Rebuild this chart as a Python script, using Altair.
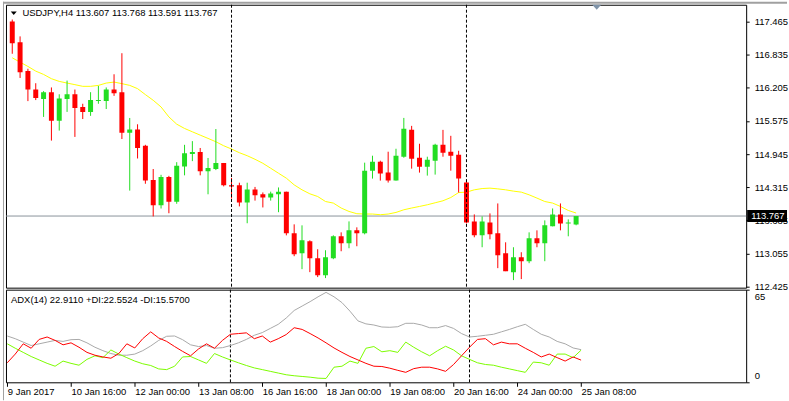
import json
import altair as alt
import pandas as pd

# ---------------- data ----------------
symbol = "USDJPY,H4"
bar_index = list(range(73))
opens = [117.465, 117.07, 116.52, 116.17, 115.99, 116.12, 115.575, 115.99, 116.08, 115.84,
         115.745, 115.95, 115.95, 116.17, 116.12, 115.35, 115.41, 115.10, 114.45, 113.97,
         114.51, 114.04, 114.71, 114.945, 114.985, 114.62, 114.66, 114.775, 114.35, 114.35,
         114.025, 114.27, 114.18, 114.12, 114.18, 114.23, 113.438, 113.06, 113.287, 112.966,
         112.644, 112.966, 113.382, 113.249, 113.495, 113.438, 114.629, 114.80, 114.592, 114.44,
         114.894, 115.404, 114.875, 114.705, 114.818, 115.121, 114.989, 114.932, 114.403, 113.665,
         113.401, 113.646, 113.438, 113.06, 112.701, 112.985, 112.909, 113.344, 113.249, 113.571,
         113.798, 113.627, 113.607]
highs = [117.50, 117.18, 116.565, 116.29, 116.14, 116.21, 116.08, 116.34, 116.17, 115.90,
         116.12, 116.24, 116.21, 116.46, 116.86, 115.63, 115.51, 115.12, 114.66, 114.55,
         114.53, 114.79, 115.12, 115.19, 115.06, 114.87, 115.42, 114.775, 114.49, 114.40,
         114.40, 114.32, 114.215, 114.23, 114.31, 114.23, 113.609, 113.59, 113.306, 113.136,
         113.117, 113.401, 113.457, 113.665, 113.552, 114.781, 114.913, 114.818, 114.989, 115.045,
         115.631, 115.48, 115.14, 114.894, 115.14, 115.404, 115.291, 115.007, 114.44, 113.798,
         113.76, 113.817, 114.006, 113.268, 113.174, 113.079, 113.457, 113.495, 113.684, 113.911,
         114.006, 113.703, 113.768]
lows = [116.85, 116.39, 115.95, 115.97, 115.65, 115.20, 115.39, 115.745, 115.27, 115.61,
        115.67, 115.90, 115.80, 116.05, 115.23, 114.25, 114.86, 114.38, 113.76, 113.91,
        113.82, 114.00, 114.54, 114.81, 114.54, 114.18, 114.64, 114.33, 114.10, 113.95,
        113.63, 114.06, 113.93, 114.06, 113.84, 113.40, 113.004, 112.758, 112.701, 112.607,
        112.588, 112.947, 113.098, 113.155, 113.193, 113.419, 114.478, 114.44, 114.403, 114.44,
        114.875, 114.667, 114.592, 114.535, 114.554, 114.894, 114.629, 114.214, 113.627, 113.363,
        113.174, 113.325, 112.777, 112.72, 112.55, 112.569, 112.871, 113.174, 112.909, 113.571,
        113.495, 113.382, 113.591]
closes = [117.05, 116.50, 116.17, 116.01, 116.12, 115.575, 116.00, 116.08, 115.82, 115.745,
          115.97, 115.97, 116.17, 116.10, 115.35, 115.41, 115.06, 114.44, 113.97, 114.51,
          114.04, 114.72, 114.96, 114.985, 114.62, 114.68, 114.775, 114.35, 114.33, 114.025,
          114.27, 114.16, 114.12, 114.195, 114.23, 113.44, 113.042, 113.306, 112.966, 112.644,
          112.985, 113.382, 113.249, 113.495, 113.438, 114.629, 114.80, 114.573, 114.44, 114.913,
          115.423, 114.856, 114.705, 114.837, 115.121, 114.97, 114.913, 114.478, 113.646, 113.401,
          113.665, 113.419, 113.023, 112.72, 112.985, 112.909, 113.344, 113.249, 113.59, 113.798,
          113.627, 113.646, 113.767]
moving_avg = [116.773, 116.69, 116.609, 116.52, 116.457, 116.376, 116.325, 116.293, 116.263, 116.231,
              116.231, 116.249, 116.293, 116.312, 116.282, 116.249, 116.187, 116.074, 115.966, 115.839,
              115.65, 115.512, 115.431, 115.367, 115.304, 115.242, 115.178, 115.102, 115.04, 114.97,
              114.913, 114.845, 114.769, 114.675, 114.58, 114.486, 114.359, 114.265, 114.189, 114.138,
              114.043, 114.013, 113.919, 113.854, 113.811, 113.805, 113.805, 113.792, 113.805, 113.835,
              113.886, 113.919, 113.949, 113.981, 114.019, 114.057, 114.119, 114.213, 114.221, 114.265,
              114.289, 114.297, 114.283, 114.265, 114.24, 114.221, 114.17, 114.108, 114.043, 114.013,
              113.949, 113.873, 113.824]
adx = [32.5, 30.6, 28.2, 25.8, 27.0, 28.2, 29.4, 28.7, 29.9, 30.1,
       27.7, 24.6, 22.2, 20.2, 19.0, 19.0, 19.8, 22.2, 25.5, 29.4,
       32.3, 32.5, 29.9, 26.3, 25.1, 25.8, 23.9, 24.3, 25.8, 27.7,
       30.1, 33.0, 34.9, 37.8, 40.7, 45.1, 50.4, 53.5, 56.6, 60.0,
       63.1, 60.0, 55.9, 49.9, 43.1, 41.0, 40.2, 38.8, 38.6, 39.0,
       41.4, 41.4, 40.2, 38.3, 38.3, 39.8, 37.8, 34.2, 31.8, 32.3,
       33.0, 33.7, 35.4, 37.1, 39.0, 40.7, 37.1, 33.7, 31.8, 28.7,
       27.0, 24.1, 22.911]
plus_di = [27.0, 23.9, 21.0, 18.1, 15.7, 13.3, 11.3, 14.9, 13.3, 12.0,
           16.1, 18.6, 17.3, 22.7, 19.8, 17.3, 14.9, 13.0, 11.8, 9.4,
           8.9, 11.3, 17.8, 18.1, 15.7, 13.3, 20.2, 17.8, 15.7, 13.7,
           11.8, 10.1, 8.9, 7.7, 6.5, 5.3, 4.6, 4.1, 3.6, 2.9,
           2.7, 10.6, 11.3, 14.9, 13.3, 23.9, 25.1, 21.4, 22.2, 21.0,
           28.2, 24.6, 21.4, 18.6, 22.2, 25.3, 22.7, 18.6, 16.1, 13.7,
           12.5, 12.0, 10.6, 9.4, 8.2, 7.0, 14.2, 13.7, 12.0, 19.8,
           19.8, 17.3, 22.5524]
minus_di = [13.7, 19.8, 27.0, 23.9, 30.1, 31.8, 29.4, 26.3, 27.7, 24.6,
            21.0, 19.0, 17.8, 16.9, 20.2, 27.0, 24.1, 30.6, 35.4, 31.1,
            28.7, 25.1, 21.7, 18.6, 23.4, 27.0, 23.9, 29.4, 33.7, 34.2,
            34.7, 30.6, 32.5, 28.2, 30.6, 33.5, 38.3, 37.1, 34.2, 31.1,
            27.7, 24.1, 21.0, 18.1, 15.7, 13.3, 11.3, 11.1, 9.9, 8.4,
            7.0, 9.6, 10.6, 10.6, 9.4, 7.7, 12.5, 18.6, 24.6, 30.1,
            30.6, 26.3, 28.2, 27.0, 27.0, 23.9, 21.0, 17.8, 19.8, 17.3,
            14.9, 17.8, 15.57]
time_tick_index = [0, 8, 16, 24, 32, 40, 48, 56, 64, 72]
time_labels = ["9 Jan 2017", "10 Jan 16:00", "12 Jan 00:00", "13 Jan 08:00", "16 Jan 16:00",
               "18 Jan 00:00", "19 Jan 08:00", "20 Jan 16:00", "24 Jan 00:00", "25 Jan 08:00"]
price_ticks = [112.425, 113.055, 113.685, 114.315, 114.945, 115.575, 116.205, 116.835, 117.465]
indicator_ticks = [0, 65]
week_separators = [28, 58]

# ---------------- frames ----------------
FONT = "Liberation Sans"
FS = 9.5
W, H1, H2 = 743, 284, 93

df = pd.DataFrame({"i": bar_index, "open": opens, "high": highs, "low": lows,
                   "close": closes, "ma": moving_avg})
df["dir"] = ["up" if c >= o else "down" for o, c in zip(opens, closes)]
last = pd.DataFrame({"p": [closes[-1]]})
sep = pd.DataFrame({"s": week_separators})
one = pd.DataFrame({"k": [0]})

header = f"{symbol}  {opens[-1]:.3f} {highs[-1]:.3f} {lows[-1]:.3f} {closes[-1]:.3f}"
ind_header = f"ADX(14) {adx[-1]:.4f} +DI:{plus_di[-1]:.4f} -DI:{minus_di[-1]:.4f}"

xs = alt.Scale(domain=[0, 72], range=[1.3, 577.3])
ys = alt.Scale(domain=[112.406, 117.781], zero=False, nice=False)
cs = alt.Scale(domain=["up", "down"], range=["#22DD22", "#FF0000"])

price_axis = alt.Axis(orient="right", values=price_ticks, format=".3f", tickSize=3,
                      labelPadding=5, domain=False, grid=False, title=None,
                      labelFlush=False, labelOverlap=False, labelBound=False)
label_expr = json.dumps(time_labels) + "[round(datum.value / 8)]"
time_axis = alt.Axis(values=time_tick_index, labelExpr=label_expr,
                     labelAlign="left", labelBaseline="top", labelPadding=0,
                     tickSize=4, domain=False, grid=False, title=None,
                     labelFlush=False, labelOverlap=False, labelBound=False)
ivs = alt.Scale(domain=[0, 65], zero=False, nice=False)
ind_axis = alt.Axis(orient="right", values=indicator_ticks, tickSize=3,
                    labelPadding=5, labelFlush=True, labelFlushOffset=-2,
                    domain=False, grid=False, title=None,
                    labelOverlap=False, labelBound=False)

base = alt.Chart(df)
price_line = alt.Chart(last).mark_rule(color="#8A949C", strokeWidth=1).encode(
    y=alt.Y("p:Q", scale=ys, axis=price_axis))
ma_line = base.mark_line(color="#FFFF00", strokeWidth=1, clip=True).encode(
    x=alt.X("i:Q", scale=xs, axis=None), y=alt.Y("ma:Q", scale=ys, axis=price_axis))
wicks = base.mark_rule(strokeWidth=1, clip=True).encode(
    x=alt.X("i:Q", scale=xs, axis=None),
    y=alt.Y("low:Q", scale=ys, axis=price_axis), y2="high:Q",
    color=alt.Color("dir:N", scale=cs, legend=None))
bodies = base.mark_bar(size=5, clip=True).encode(
    x=alt.X("i:Q", scale=xs, axis=None),
    y=alt.Y("open:Q", scale=ys, axis=price_axis), y2="close:Q",
    color=alt.Color("dir:N", scale=cs, legend=None))
seps1 = alt.Chart(sep).mark_rule(color="black", strokeDash=[3, 2], strokeWidth=1).encode(
    x=alt.X("s:Q", scale=xs, axis=None))
title_tri = alt.Chart(one).mark_point(shape="M-1,-0.6L1,-0.6L0,0.6Z", filled=True, color="black",
                                      opacity=1, size=36).encode(x=alt.value(7.8), y=alt.value(8.5))
title_txt = alt.Chart(pd.DataFrame({"t": [header]})).mark_text(
    align="left", baseline="middle", font=FONT, fontSize=FS, color="black").encode(
    x=alt.value(16.5), y=alt.value(8), text="t:N")
shift_tri = alt.Chart(one).mark_point(shape="M-1,-0.55L1,-0.55L0,0.55Z", filled=True, color="#7F93A8",
                                      opacity=1, size=81).encode(x=alt.value(593), y=alt.value(2.5))
price_box = alt.Chart(last).mark_point(shape="M-1,-0.3L1,-0.3L1,0.3L-1,0.3Z", filled=True,
                                       color="black", opacity=1, size=1600).encode(
    x=alt.value(764), y=alt.Y("p:Q", scale=ys, axis=price_axis))
price_txt = alt.Chart(last).mark_text(align="left", baseline="middle", font=FONT, fontSize=FS,
                                      color="white").encode(
    x=alt.value(748), y=alt.Y("p:Q", scale=ys, axis=price_axis), text=alt.Text("p:Q", format=".3f"))
frame_top = alt.Chart(one).mark_rule(color="#A0A0A0", strokeWidth=2).encode(
    x=alt.value(-3), x2=alt.value(784), y=alt.value(-2))
frame_left = alt.Chart(one).mark_rule(color="#A0A0A0", strokeWidth=1).encode(
    x=alt.value(-2.5), y=alt.value(-3), y2=alt.value(397))

main = alt.layer(price_line, ma_line, wicks, bodies, seps1, title_tri, title_txt, shift_tri,
                 price_box, price_txt, frame_top, frame_left).properties(width=W, height=H1)

ind_long = pd.DataFrame({
    "i": bar_index * 3,
    "v": adx + plus_di + minus_di,
    "s": ["adx"] * 73 + ["pdi"] * 73 + ["mdi"] * 73,
})
lines = alt.Chart(ind_long).mark_line(strokeWidth=1).encode(
    x=alt.X("i:Q", scale=xs, axis=time_axis),
    y=alt.Y("v:Q", scale=ivs, axis=ind_axis),
    color=alt.Color("s:N", scale=alt.Scale(domain=["adx", "pdi", "mdi"],
                                           range=["#A9A9A9", "#7CFC00", "#FF0000"]), legend=None),
    order=alt.Order("i:Q"))
seps2 = alt.Chart(sep).mark_rule(color="black", strokeDash=[3, 2], strokeWidth=1).encode(
    x=alt.X("s:Q", scale=xs, axis=time_axis))
ind_txt = alt.Chart(pd.DataFrame({"t": [ind_header]})).mark_text(
    align="left", baseline="middle", font=FONT, fontSize=FS, color="black").encode(
    x=alt.value(5), y=alt.value(10), text="t:N")
indicator = alt.layer(seps2, lines, ind_txt).properties(width=W, height=H2)

chart = alt.vconcat(main, indicator, spacing=2, bounds="flush").resolve_scale(
    x="independent", y="independent", color="independent"
).properties(
    padding={"left": 1, "top": 0, "right": 0, "bottom": 0},
    background="white",
).configure_view(stroke="black", strokeWidth=1).configure_axis(
    labelFont=FONT, labelFontSize=FS, labelColor="black", tickColor="black", tickWidth=1,
    labelOverlap=False, labelBound=False)

chart.save("out.html", embed_options={"renderer": "svg", "actions": False})
